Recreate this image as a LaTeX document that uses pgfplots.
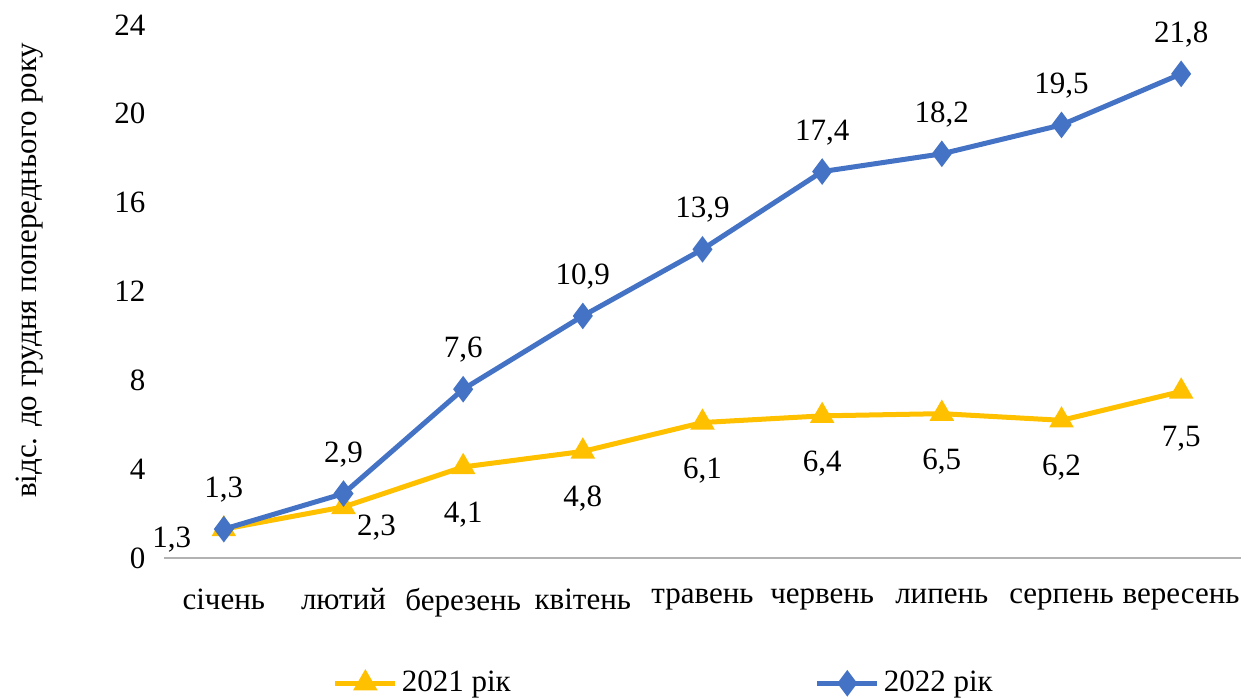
\documentclass[border=0pt]{standalone}
\usepackage{fontspec}
\setmainfont{Liberation Serif}
\usepackage{pgfplots}
\pgfplotsset{compat=1.18}
\definecolor{cy}{HTML}{FFC000}
\definecolor{cb}{HTML}{4472C4}
\newcommand{\ff}{\rmfamily\fontsize{15.5}{18}\selectfont}
\begin{document}
\ff
\begin{tikzpicture}
\begin{axis}[
  name=ax,
  scale only axis,
  width=538.5pt, height=266.5pt,
  xmin=-0.5, xmax=8.5, ymin=0, ymax=24,
  xtick={0,...,8},
  xticklabels={січень,лютий,березень,квітень,травень,червень,липень,серпень,вересень},
  ytick={0,4,...,24},
  axis lines*=left,
  y axis line style={draw=none},
  x axis line style={draw=gray!60, line width=0.6pt, -},
  major tick length=0pt,
  tick style={draw=none},
  xticklabel style={yshift=-10pt, font=\ff},
  yticklabel style={xshift=-4pt, font=\ff},
  /pgf/number format/assume math mode=true,
  ylabel={відс. до грудня попереднього року},
  ylabel style={at={(rel axis cs:-0.125,0.54)}, anchor=center, font=\ff},
  nodes near coords style={font=\ff, text=black,
    /pgf/number format/use comma, /pgf/number format/fixed,
    /pgf/number format/fixed zerofill, /pgf/number format/precision=1},
  legend columns=2,
  legend style={at={(rel axis cs:0.465,-0.235)}, anchor=center, draw=none, fill=none,
    /tikz/every even column/.append style={column sep=150pt}, font=\ff},
  legend image code/.code={\draw[mark repeat=2,mark phase=2,#1] plot coordinates {(0pt,0pt) (15pt,0pt) (30pt,0pt)};},
  legend cell align=left,
  clip=false,
]
\addplot[cy, line width=2.5pt, mark=triangle*, mark size=4.6pt, mark options={solid}]
  coordinates {(0,1.3)(1,2.3)(2,4.1)(3,4.8)(4,6.1)(5,6.4)(6,6.5)(7,6.2)(8,7.5)};
\addlegendentry{2021 рік}
\addplot[cb, line width=2.5pt, mark=diamond*, mark size=4.6pt, mark options={solid},
  nodes near coords, every node near coord/.append style={anchor=center, yshift=19.7pt, text=black}]
  coordinates {(0,1.3)(1,2.9)(2,7.6)(3,10.9)(4,13.9)(5,17.4)(6,18.2)(7,19.5)(8,21.8)};
\addlegendentry{2022 рік}
\addplot[draw=none, mark=none, forget plot, nodes near coords,
  every node near coord/.append style={anchor=center, yshift=-23.8pt, text=black}]
  coordinates {(2,4.1)(3,4.8)(4,6.1)(5,6.4)(6,6.5)(7,6.2)(8,7.5)};
\addplot[draw=none, mark=none, forget plot, nodes near coords,
  every node near coord/.append style={anchor=center, xshift=16.5pt, yshift=-10.5pt, text=black}]
  coordinates {(1,2.3)};
\addplot[draw=none, mark=none, forget plot, nodes near coords,
  every node near coord/.append style={anchor=center, xshift=-26pt, yshift=-5pt, text=black}]
  coordinates {(0,1.3)};
\end{axis}
\pgfresetboundingbox
\path[use as bounding box] ([shift={(-82pt,-70pt)}]ax.south west) rectangle ([shift={(545pt,279pt)}]ax.south west);
\end{tikzpicture}
\end{document}
